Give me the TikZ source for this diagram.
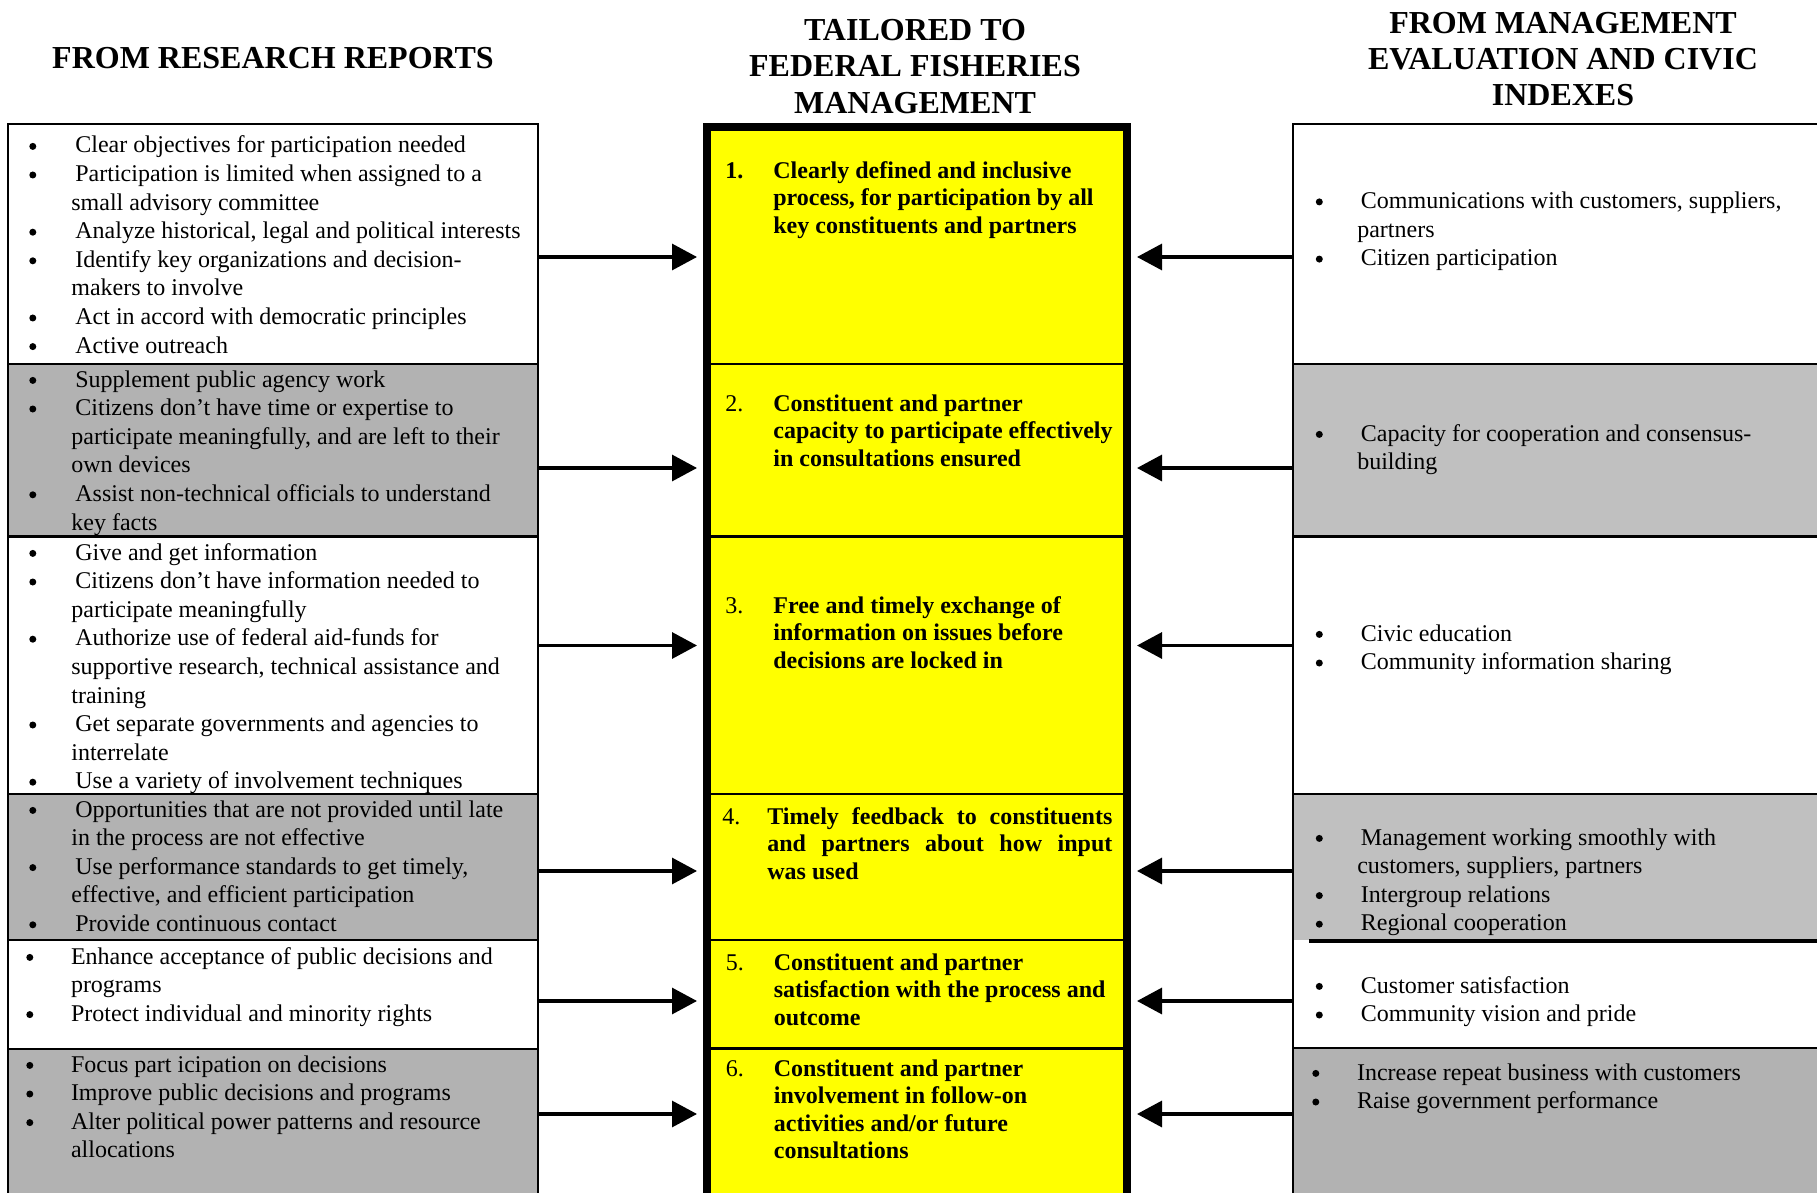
\documentclass[tikz,border=0pt]{standalone}
\usepackage{fontspec}
\setmainfont{Liberation Serif}
\usetikzlibrary{arrows.meta}

\definecolor{ylw}{RGB}{255,255,0}
\definecolor{grayL}{RGB}{178,178,178}
\definecolor{grayR}{RGB}{192,192,192}

\newcommand\bul{\tikz[baseline=0pt]{\path (0pt,0pt); \fill[black] (2.2pt,3.3pt) circle[radius=1.75pt];}}
\newcommand\LB[1]{\makebox[21.5pt][l]{\bul}\hspace{2pt}#1\par}
\newcommand\LC[1]{\hspace*{21.5pt}#1\par}
\newcommand\LBB[1]{\makebox[22.8pt][l]{\bul}#1\par}
\newcommand\LCC[1]{\hspace*{22.8pt}#1\par}
\newcommand\RB[1]{\makebox[21.2pt][l]{\bul}\hspace{1.8pt}#1\par}
\newcommand\RC[1]{\hspace*{21.2pt}#1\par}
\newcommand\CN[2]{\makebox[24pt][l]{#1}\textbf{#2}\par}
\newcommand\CC[1]{\hspace*{24pt}\textbf{#1}\par}
\newcommand\blk[2]{\parbox[t]{#1}{\raggedright\fontsize{12}{14.3}\selectfont\setlength\parindent{0pt}\setlength\parskip{0pt}#2}}
\newcommand\cblk[2]{\parbox[t]{#1}{\raggedright\fontsize{12}{13.8}\selectfont\setlength\parindent{0pt}\setlength\parskip{0pt}#2}}

\tikzset{
  txt/.style={anchor=base west, inner sep=0pt},
  hdr/.style={anchor=base, inner sep=0pt},
  frame/.style={line width=1.2pt},
  arr/.style={line width=1.6pt, -{Triangle[length=12.5pt,width=13pt]}}
}

\begin{document}
\begin{tikzpicture}[x=0.5pt,y=-0.5pt]
\useasboundingbox (0,0) rectangle (1817,1193);
\clip (0,0) rectangle (1817,1193);
\fill[white] (0,0) rectangle (1817,1193);

% ---------- headers ----------
\node[hdr] (hL) at (273,68.5) {\fontsize{16}{18.25}\selectfont\bfseries FROM RESEARCH REPORTS};
\node[hdr] (hC) at (915,40.5) {\parbox[t]{300pt}{\centering\fontsize{16}{18.25}\selectfont\bfseries TAILORED TO\\FEDERAL FISHERIES\\MANAGEMENT}};
\node[hdr] (hR) at (1563,33.5) {\parbox[t]{300pt}{\centering\fontsize{16}{18}\selectfont\bfseries FROM MANAGEMENT\\EVALUATION AND CIVIC\\INDEXES}};

% ---------- left column ----------
\fill[white] (8,124) rectangle (538,364);
\fill[grayL] (8,364) rectangle (538,536.5);
\fill[white] (8,536.5) rectangle (538,794);
\fill[grayL] (8,794) rectangle (538,940);
\fill[white] (8,940) rectangle (538,1049);
\fill[grayL] (8,1049) rectangle (538,1210);
\draw[frame] (8,1210) -- (8,124) -- (538,124) -- (538,1210);
\foreach \yy in {364,536.5,794,940,1049} \draw[frame] (8,\yy) -- (538,\yy);

% ---------- right column ----------
\fill[white] (1293,124) rectangle (1830,364);
\fill[grayR] (1293,364) rectangle (1830,536.5);
\fill[white] (1293,536.5) rectangle (1830,794);
\fill[grayR] (1293,794) rectangle (1830,940);
\fill[white] (1293,940) rectangle (1830,1048);
\fill[grayL] (1293,1048) rectangle (1830,1210);
\draw[frame] (1293,1210) -- (1293,124) -- (1830,124);
\foreach \yy in {364,536.5,794,1048} \draw[frame] (1293,\yy) -- (1830,\yy);
\draw[line width=1.7pt] (1309,941) -- (1830,941);

% ---------- centre column ----------
\fill[ylw] (703,123) rectangle (1131,1210);
\foreach \yy in {364,536.5,794,940,1048.5} \draw[frame] (707,\yy) -- (1127,\yy);
\draw[line width=4pt] (707,1215) -- (707,127) -- (1127,127) -- (1127,1215);

% ---------- left texts ----------
\node[txt] (tL1) at (28,153) {\blk{265pt}{%
\LB{Clear objectives for participation needed}
\LB{Participation is limited when assigned to a}
\LC{small advisory committee}
\LB{Analyze historical, legal and political interests}
\LB{Identify key organizations and decision-}
\LC{makers to involve}
\LB{Act in accord with democratic principles}
\LB{Active outreach}}};
\node[txt] (tL2) at (28,387) {\blk{265pt}{%
\LB{Supplement public agency work}
\LB{Citizens don’t have time or expertise to}
\LC{participate meaningfully, and are left to their}
\LC{own devices}
\LB{Assist non-technical officials to understand}
\LC{key facts}}};
\node[txt] (tL3) at (28,560) {\blk{265pt}{%
\LB{Give and get information}
\LB{Citizens don’t have information needed to}
\LC{participate meaningfully}
\LB{Authorize use of federal aid-funds for}
\LC{supportive research, technical assistance and}
\LC{training}
\LB{Get separate governments and agencies to}
\LC{interrelate}
\LB{Use a variety of involvement techniques}}};
\node[txt] (tL4) at (28,817) {\blk{265pt}{%
\LB{Opportunities that are not provided until late}
\LC{in the process are not effective}
\LB{Use performance standards to get timely,}
\LC{effective, and efficient participation}
\LB{Provide continuous contact}}};
\node[txt] (tL5) at (25,964) {\blk{265pt}{%
\LBB{Enhance acceptance of public decisions and}
\LCC{programs}
\LBB{Protect individual and minority rights}}};
\node[txt] (tL6) at (25,1072) {\blk{265pt}{%
\LBB{Focus part icipation on decisions}
\LBB{Improve public decisions and programs}
\LBB{Alter political power patterns and resource}
\LCC{allocations}}};

% ---------- centre texts ----------
\node[txt] (tC1) at (725,178) {\cblk{200pt}{%
\CN{\textbf{1.}}{Clearly defined and inclusive}
\CC{process, for participation by all}
\CC{key constituents and partners}}};
\node[txt] (tC2) at (725,411) {\cblk{200pt}{%
\CN{2.}{Constituent and partner}
\CC{capacity to participate effectively}
\CC{in consultations ensured}}};
\node[txt] (tC3) at (725,613) {\cblk{200pt}{%
\CN{3.}{Free and timely exchange of}
\CC{information on issues before}
\CC{decisions are locked in}}};
\node[txt] (tC4) at (722,824) {\cblk{200pt}{%
\makebox[22.5pt][l]{4.}\makebox[172.5pt][s]{\textbf{Timely feedback to constituents}}\par
\hspace*{22.5pt}\makebox[172.5pt][s]{\textbf{and partners about how input}}\par
\hspace*{22.5pt}\textbf{was used}\par}};
\node[txt] (tC5) at (725.5,970) {\cblk{200pt}{%
\CN{5.}{Constituent and partner}
\CC{satisfaction with the process and}
\CC{outcome}}};
\node[txt] (tC6) at (725.5,1076) {\cblk{200pt}{%
\CN{6.}{Constituent and partner}
\CC{involvement in follow-on}
\CC{activities and/or future}
\CC{consultations}}};

% ---------- right texts ----------
\node[txt] (tR1) at (1314.5,208.5) {\blk{240pt}{%
\RB{Communications with customers, suppliers,}
\RC{partners}
\RB{Citizen participation}}};
\node[txt] (tR2) at (1314.5,441) {\blk{240pt}{%
\RB{Capacity for cooperation and consensus-}
\RC{building}}};
\node[txt] (tR3) at (1314.5,641) {\blk{240pt}{%
\RB{Civic education}
\RB{Community information sharing}}};
\node[txt] (tR4) at (1314.5,845) {\blk{240pt}{%
\RB{Management working smoothly with}
\RC{customers, suppliers, partners}
\RB{Intergroup relations}
\RB{Regional cooperation}}};
\node[txt] (tR5) at (1314.5,993) {\blk{240pt}{%
\RB{Customer satisfaction}
\RB{Community vision and pride}}};
\node[txt] (tR6) at (1311,1080) {\blk{240pt}{%
\LBB{Increase repeat business with customers}
\LBB{Raise government performance}}};

% ---------- arrow end points ----------
\foreach \i/\yy in {1/257,2/468,3/645.5,4/871,5/1001,6/1114} {
  \coordinate (Lout\i) at (538,\yy);
  \coordinate (Cin\i)  at (697,\yy);
  \coordinate (Rout\i) at (1293,\yy);
  \coordinate (Cinr\i) at (1137,\yy);
}
\foreach \i in {1,...,6} {
  \draw[arr] (Lout\i) -- (Cin\i);
  \draw[arr] (Rout\i) -- (Cinr\i);
}
\end{tikzpicture}
\end{document}
